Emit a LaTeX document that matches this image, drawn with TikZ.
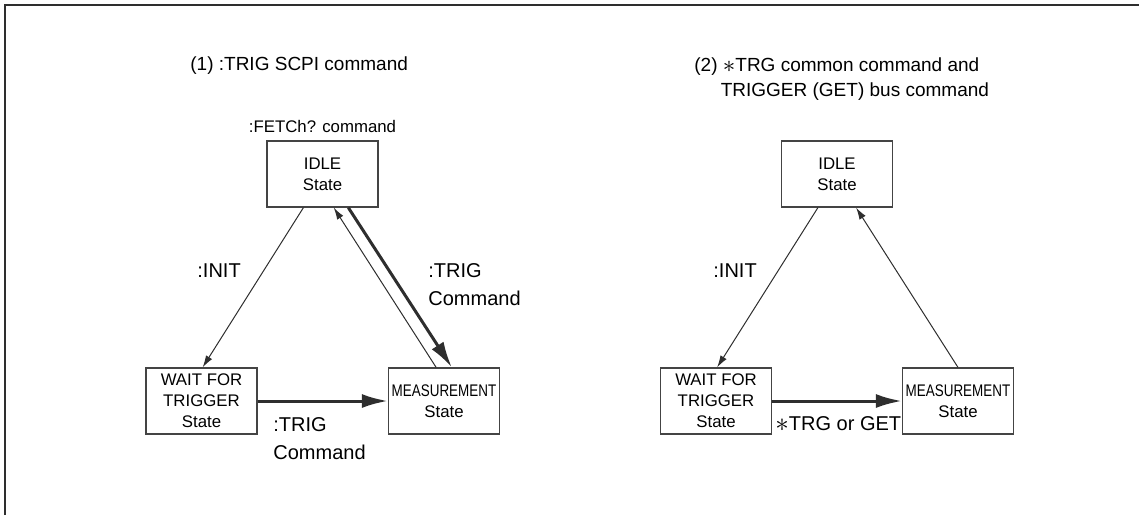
\documentclass[tikz,border=0pt]{standalone}
\usepackage{fontspec}
\setmainfont{Liberation Sans}
\usepackage{graphicx}
\definecolor{linegray}{HTML}{2E2E2E}
\definecolor{boxgray}{HTML}{444444}
\usetikzlibrary{arrows.meta, calc}
\newcommand{\condensed}[2][0.8]{\scalebox{#1}[1]{#2}}
\newcommand{\bigast}{\raisebox{-0.15ex}{\scalebox{1.35}{$\ast$}}}
\tikzset{
  statebox/.style={
    draw=boxgray, line width=0.6pt, minimum width=55.5pt,
    minimum height=33pt, inner sep=1pt, align=center,
    font=\fontsize{8.4}{10.5}\selectfont, text=black
  },
  cmdlbl/.style={
    font=\fontsize{10}{14}\selectfont, align=left,
    inner sep=0pt, anchor=north west
  },
  heading/.style={
    font=\fontsize{9.5}{12.5}\selectfont, align=left,
    inner sep=0pt, anchor=north west
  },
  thinarr/.style={-{Latex[length=6pt,width=3.6pt]}, line width=0.5pt, color=linegray},
  thickarr/.style={-{Latex[length=13pt,width=7pt]}, line width=1.5pt, color=linegray},
}

\begin{document}
\begin{tikzpicture}[x=0.5pt, y=-0.5pt]
    \useasboundingbox (0,0) rectangle (1139,515);
    \draw[line width=1pt, color=linegray] (5,515) -- (5,5) -- (1139,5);

    % (1) :TRIG SCPI command
    \node[heading] (head1) at (190,56) {(1) :TRIG SCPI command};
    \node[statebox] (idle1) at (322.5,174) {IDLE\\State};
    \node[font=\fontsize{8.4}{10}\selectfont, inner sep=0pt, anchor=south]
      (fetch) at (322.5,133) {:FETCh? command};
    \node[statebox] (wait1) at (201.5,401) {WAIT FOR\\TRIGGER\\State};
    \node[statebox] (meas1) at (444,401) {\condensed{MEASUREMENT}\\State};

    \node[cmdlbl] (init1) at (197,263) {:INIT};
    \node[cmdlbl] (trig1) at (428,263) {:TRIG\\Command};
    \node[cmdlbl] (trig2) at (273,417) {:TRIG\\Command};

    \draw[thinarr] ($(idle1.south west)!0.33!(idle1.south east)$)
      -- ($(wait1.north west)!0.51!(wait1.north east)$);
    \draw[thinarr] ($(meas1.north west)!0.43!(meas1.north east)$)
      -- ($(idle1.south west)!0.6!(idle1.south east)$);
    \draw[thickarr] ($(idle1.south west)!0.73!(idle1.south east)$)
      -- ($(meas1.north west)!0.57!(meas1.north east)$);
    \draw[thickarr] (wait1.east) -- (meas1.west);

    % (2) *TRG common command and TRIGGER (GET) bus command
    \node[heading] (head2) at (694,57)
      {(2) \bigast TRG common command and\\\phantom{(2)\,}TRIGGER (GET) bus command};
    \node[statebox] (idle2) at (837,174) {IDLE\\State};
    \node[statebox] (wait2) at (716,401) {WAIT FOR\\TRIGGER\\State};
    \node[statebox] (meas2) at (958,401) {\condensed{MEASUREMENT}\\State};

    \node[cmdlbl] (init2) at (713,263) {:INIT};
    \node[cmdlbl] (trgget) at (775,416) {\bigast TRG or GET};

    \draw[thinarr] ($(idle2.south west)!0.33!(idle2.south east)$)
      -- ($(wait2.north west)!0.51!(wait2.north east)$);
    \draw[thinarr] (meas2.north)
      -- ($(idle2.south west)!0.67!(idle2.south east)$);
    \draw[thickarr] (wait2.east) -- (meas2.west);
  \end{tikzpicture}
\end{document}
